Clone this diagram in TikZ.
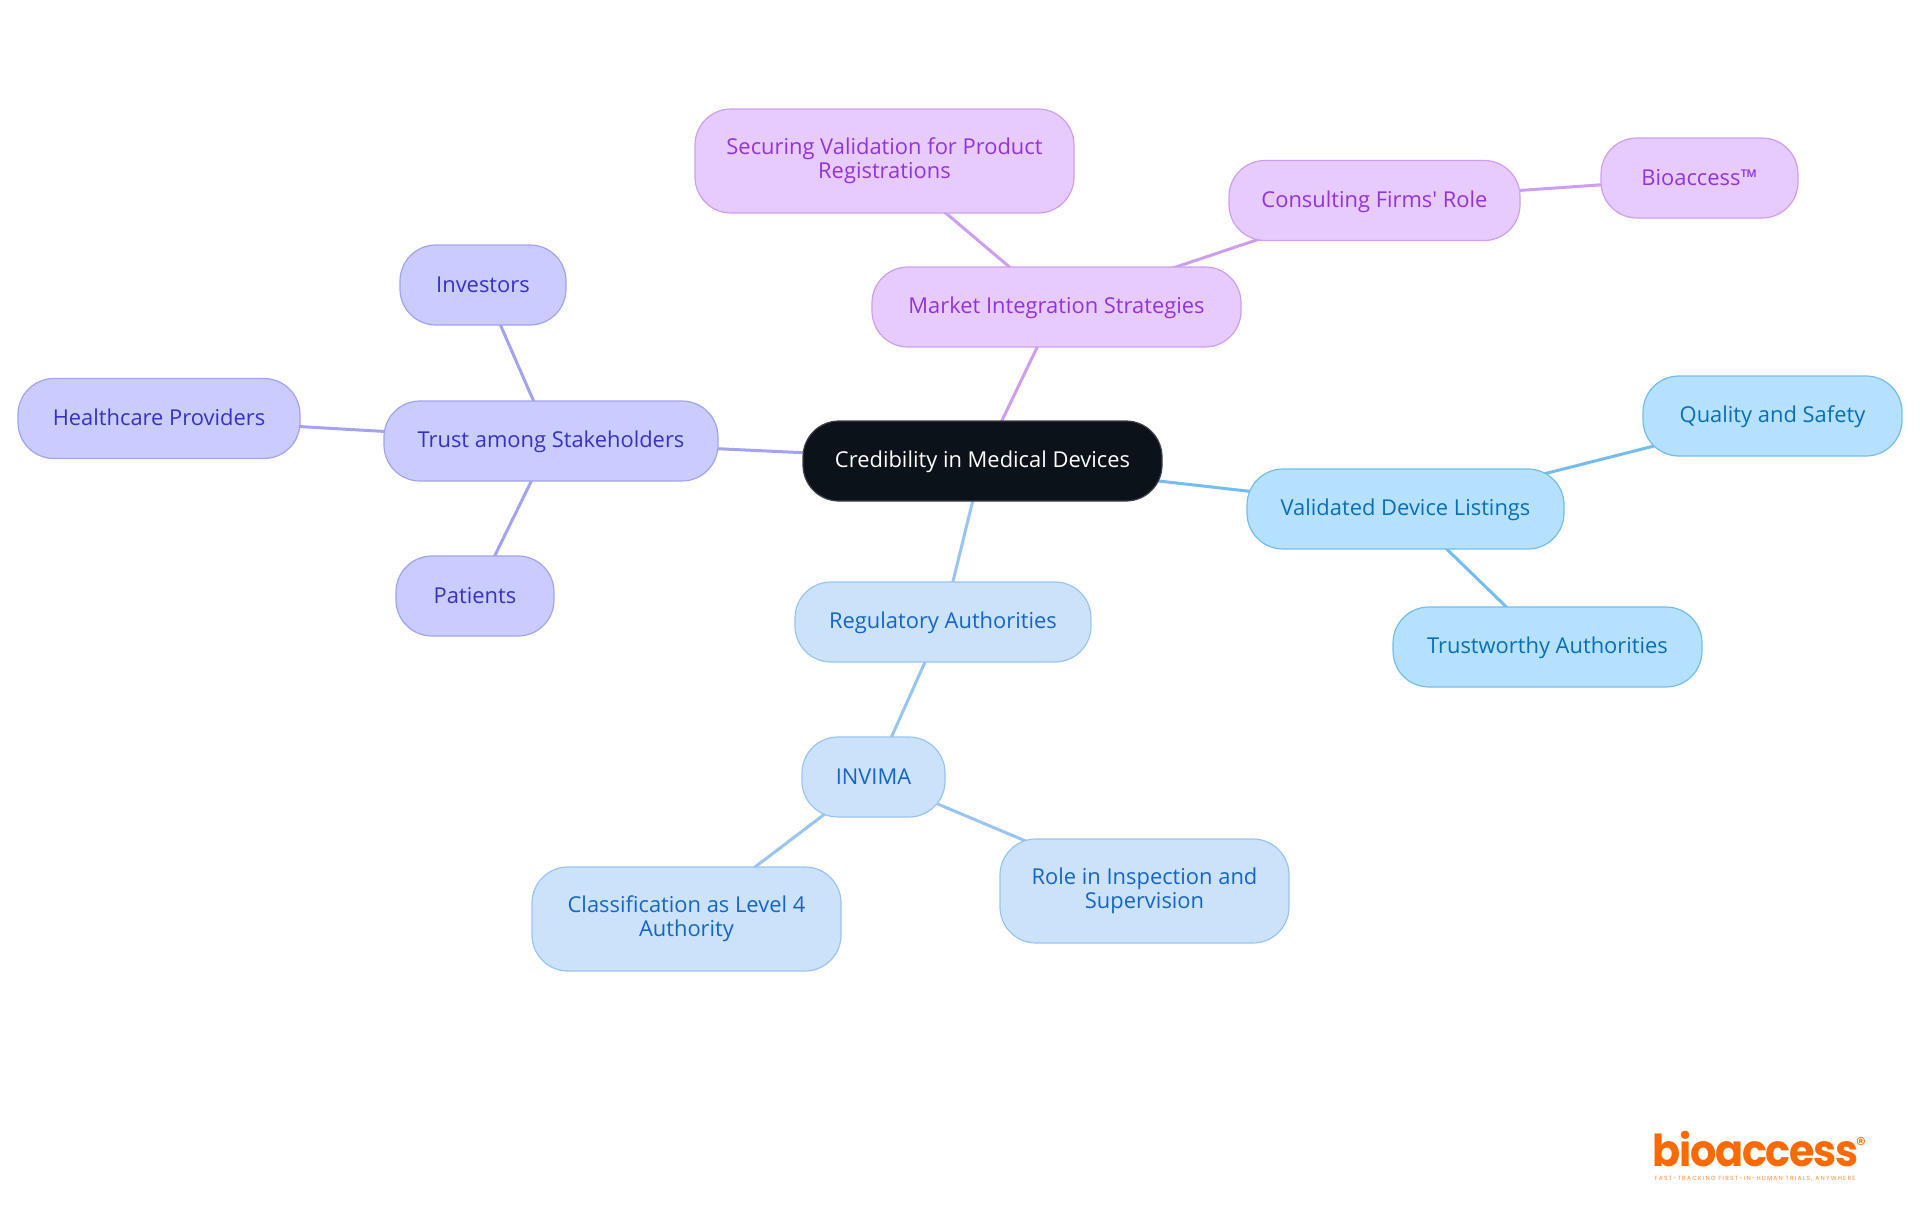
\documentclass[tikz,border=0pt]{standalone}
\usepackage{fontspec}
\setmainfont{Open Sans}
\newfontfamily\logofont{Poppins}[LetterSpace=-3]
\newfontfamily\tagfont{Poppins}[LetterSpace=20]
\usetikzlibrary{backgrounds}

\definecolor{rootfill}{HTML}{0B1219}
\definecolor{regfill}{HTML}{CCE2FB}
\definecolor{regline}{HTML}{9AC4F3}
\definecolor{regtext}{HTML}{1565C8}
\definecolor{valfill}{HTML}{B5E0FE}
\definecolor{valline}{HTML}{75BDF0}
\definecolor{valtext}{HTML}{0A6EB8}
\definecolor{mktfill}{HTML}{E8CBFE}
\definecolor{mktline}{HTML}{CC9FF2}
\definecolor{mkttext}{HTML}{9333DD}
\definecolor{trustfill}{HTML}{CACBFF}
\definecolor{trustline}{HTML}{A3A3F2}
\definecolor{trusttext}{HTML}{3A30C8}
\definecolor{logoorange}{HTML}{FF6A00}

\tikzset{
  map-node/.style={draw,rounded corners=36pt,line width=1.2pt,align=center,inner sep=0pt,minimum height=80pt,font=\fontsize{21.9}{24}\selectfont,execute at begin node={\rule[-5pt]{0pt}{24pt}}},
  root-node/.style={map-node,draw=rootfill!80!white,fill=rootfill,text=white},
  reg-node/.style={map-node,draw=regline,fill=regfill,text=regtext},
  val-node/.style={map-node,draw=valline,fill=valfill,text=valtext},
  mkt-node/.style={map-node,draw=mktline,fill=mktfill,text=mkttext},
  trust-node/.style={map-node,draw=trustline,fill=trustfill,text=trusttext},
  reg-link/.style={draw=regline,line width=3pt},
  val-link/.style={draw=valline,line width=3pt},
  mkt-link/.style={draw=mktline,line width=3pt},
  trust-link/.style={draw=trustline,line width=3pt}
}

\begin{document}
\begin{tikzpicture}[x=1pt,y=-1pt]

  \useasboundingbox (0,0) rectangle (1920,1215);

  % Place the central node.
  \node [root-node,minimum width=359pt] (credibility) at (982.5,461) {Credibility in Medical Devices};

  % Place the regulatory branch.
  \node [reg-node,minimum width=296pt] (regulatory) at (943,622) {Regulatory Authorities};
  \node [reg-node,minimum width=143pt] (invima) at (873.5,777) {INVIMA};
  \node [reg-node,minimum width=309pt,minimum height=104pt] (classification) at (686.5,919) {Classification as Level 4\\Authority};
  \node [reg-node,minimum width=289pt,minimum height=104pt] (inspection) at (1144.5,891) {Role in Inspection and\\Supervision};

  % Place the validated listings branch.
  \node [val-node,minimum width=317pt] (listings) at (1405.5,509) {Validated Device Listings};
  \node [val-node,minimum width=259pt] (quality) at (1772.5,416) {Quality and Safety};
  \node [val-node,minimum width=309pt] (trustworthy) at (1547.5,647) {Trustworthy Authorities};

  % Place the market integration branch.
  \node [mkt-node,minimum width=369pt] (market) at (1056.5,307) {Market Integration Strategies};
  \node [mkt-node,minimum width=379pt,minimum height=104pt] (securing) at (884.5,161) {Securing Validation for Product\\Registrations};
  \node [mkt-node,minimum width=291pt] (consulting) at (1374.5,200.5) {Consulting Firms\textquotesingle{} Role};
  \node [mkt-node,minimum width=197pt] (bioaccess) at (1699.5,178) {Bioaccess™};

  % Place the stakeholder branch.
  \node [trust-node,minimum width=334pt] (stakeholders) at (551,441) {Trust among Stakeholders};
  \node [trust-node,minimum width=166pt] (investors) at (483,285) {Investors};
  \node [trust-node,minimum width=282pt] (healthcare) at (159,418.5) {Healthcare Providers};
  \node [trust-node,minimum width=158pt] (patients) at (475,596) {Patients};

  % Place the logo.
  \node [text=logoorange,inner sep=0pt,anchor=base,font=\logofont\bfseries\fontsize{44}{44}\selectfont] (logo) at (1755.5,1166.5) {\scalebox{0.94}[1]{bioaccess}};
  \node [text=logoorange,inner sep=0pt,font=\logofont\fontsize{20}{20}\selectfont] (logo-mark) at (1861,1144) {®};
  \node [text=logoorange!75!white,inner sep=0pt,anchor=base,font=\tagfont\fontsize{6}{6}\selectfont] (logo-tag) at (1755,1180) {FAST-TRACKING FIRST-IN-HUMAN TRIALS, ANYWHERE};

  % Connect the nodes, behind them.
  \begin{scope}[on background layer]
    \draw [reg-link] (credibility.center) -- (regulatory.center);
    \draw [reg-link] (regulatory.center) -- (invima.center);
    \draw [reg-link] (invima.center) -- (classification.center);
    \draw [reg-link] (invima.center) -- (inspection.center);
    \draw [val-link] (credibility.center) -- (listings.center);
    \draw [val-link] (listings.center) -- (quality.center);
    \draw [val-link] (listings.center) -- (trustworthy.center);
    \draw [mkt-link] (credibility.center) -- (market.center);
    \draw [mkt-link] (market.center) -- (securing.center);
    \draw [mkt-link] (market.center) -- (consulting.center);
    \draw [mkt-link] (consulting.center) -- (bioaccess.center);
    \draw [trust-link] (credibility.center) -- (stakeholders.center);
    \draw [trust-link] (stakeholders.center) -- (investors.center);
    \draw [trust-link] (stakeholders.center) -- (healthcare.center);
    \draw [trust-link] (stakeholders.center) -- (patients.center);
  \end{scope}

\end{tikzpicture}
\end{document}
